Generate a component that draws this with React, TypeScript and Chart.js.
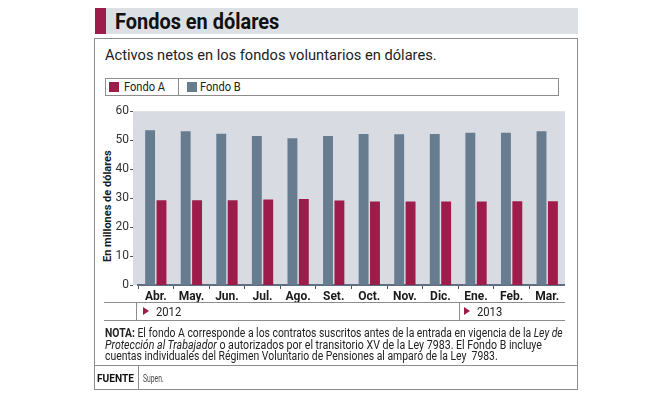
import React, { useEffect, useLayoutEffect, useRef } from "react";
import { Chart, registerables } from "chart.js";

Chart.register(...registerables);

const months = ["Abr.", "May.", "Jun.", "Jul.", "Ago.", "Set.", "Oct.", "Nov.", "Dic.", "Ene.", "Feb.", "Mar."];
const fondoA = [29.3, 29.3, 29.3, 29.5, 29.7, 29.2, 28.8, 28.8, 28.8, 28.8, 28.9, 28.9];
const fondoB = [53.4, 53.1, 52.2, 51.4, 50.7, 51.4, 52.1, 52.0, 52.1, 52.6, 52.6, 53.1];
const yTicks = [0, 10, 20, 30, 40, 50, 60];
const years = ["2012", "2013"];

const RED = "#9d1c4a";
const SLATE = "#687c8f";
const PLOT_BG = "#d8dce2";
const FONT = "Roboto, 'Noto Sans', sans-serif";

function Fit({ w, style, children }: { w: number; style?: React.CSSProperties; children: React.ReactNode }) {
  const ref = useRef<HTMLSpanElement>(null);
  useLayoutEffect(() => {
    const el = ref.current;
    if (!el) return;
    el.style.transform = "none";
    const nat = el.offsetWidth;
    if (nat > 0) el.style.transform = `scaleX(${w / nat})`;
  }, [w]);
  return (
    <span
      ref={ref}
      style={{ display: "inline-block", whiteSpace: "pre", transformOrigin: "0 50%", ...style }}
    >
      {children}
    </span>
  );
}

const abs = (l: number, t: number, extra?: React.CSSProperties): React.CSSProperties => ({
  position: "absolute",
  left: l,
  top: t,
  ...extra,
});

export default function App() {
  const canvasRef = useRef<HTMLCanvasElement>(null);

  useEffect(() => {
    const canvas = canvasRef.current;
    if (!canvas) return;
    const bgPlugin = {
      id: "plotBg",
      beforeDraw(chart: any) {
        const { ctx, chartArea } = chart;
        ctx.save();
        ctx.fillStyle = PLOT_BG;
        ctx.fillRect(chartArea.left - 5, chartArea.top, chartArea.right - chartArea.left + 5, chartArea.bottom - chartArea.top);
        ctx.restore();
      },
      afterDraw(chart: any) {
        const { ctx, chartArea } = chart;
        const y = chart.scales.y;
        ctx.save();
        ctx.strokeStyle = "#555";
        ctx.lineWidth = 1;
        yTicks.forEach((v) => {
          const py = Math.round(y.getPixelForValue(v)) + 0.5;
          ctx.beginPath();
          ctx.moveTo(chartArea.left - 8, py);
          ctx.lineTo(chartArea.left - 5, py);
          ctx.stroke();
        });
        ctx.restore();
      },
    };
    const chart = new Chart(canvas, {
      type: "bar",
      data: {
        labels: months,
        datasets: [
          { label: "Fondo B", data: fondoB, backgroundColor: SLATE, categoryPercentage: 0.64, barPercentage: 0.87 },
          { label: "Fondo A", data: fondoA, backgroundColor: RED, categoryPercentage: 0.64, barPercentage: 0.87 },
        ],
      },
      options: {
        animation: false,
        responsive: false,
        maintainAspectRatio: false,
        events: [],
        layout: { padding: 0 },
        plugins: { legend: { display: false }, tooltip: { enabled: false }, title: { display: false } },
        scales: {
          x: {
            grid: { drawOnChartArea: false, drawTicks: true, tickLength: 4, color: "#4a5560", offset: true },
            border: { display: true, color: "#5f6f7f", width: 2 },
            ticks: { font: { family: FONT, size: 12, weight: "bold" }, color: "#1a1a1a", padding: 1, maxRotation: 0 },
            afterFit: (s: any) => {
              s.height = 21;
            },
          },
          y: {
            min: 0,
            max: 60,
            grid: { display: false, drawTicks: false },
            border: { display: false },
            ticks: {
              stepSize: 10,
              font: { family: FONT, size: 12 },
              color: "#333",
              padding: 9,
            },
            afterFit: (s: any) => {
              s.width = 42;
            },
          },
        },
      },
      plugins: [bgPlugin],
    } as any);
    return () => chart.destroy();
  }, []);

  const line = (l: number, t: number, w: number, h: number, c = "#8c8c8c") => (
    <div style={abs(l, t, { width: w, height: h, background: c })} />
  );

  return (
    <div
      style={{
        position: "absolute",
        left: 0,
        top: 0,
        width: 653,
        height: 398,
        background: "#fff",
        fontFamily: FONT,
        color: "#1f1f1f",
        overflow: "hidden",
      }}
    >
      {/* Title band */}
      <div style={abs(95, 8, { width: 483, height: 26, background: "#dcdfe4" })} />
      <div style={abs(95, 8, { width: 11, height: 26, background: RED })} />
      <div style={abs(115, 8, { height: 27, lineHeight: "27px", fontSize: 22, fontWeight: 700, color: "#111" })}>
        <Fit w={164}>Fondos en dólares</Fit>
      </div>

      {/* Box */}
      <div style={abs(94, 38, { width: 482, height: 350, border: "1px solid #8c8c8c" })} />

      {/* Subtitle */}
      <div style={abs(105, 46, { height: 18, lineHeight: "18px", fontSize: 15, color: "#222" })}>
        <Fit w={332}>Activos netos en los fondos voluntarios en dólares.</Fit>
      </div>

      {/* Legend */}
      <div style={abs(105, 78, { width: 452, height: 16, border: "1px solid #8c8c8c" })} />
      <div style={abs(109, 82, { width: 10, height: 10, background: RED })} />
      <div style={abs(124, 78, { height: 18, lineHeight: "18px", fontSize: 13, color: "#222" })}>
        <Fit w={41}>Fondo A</Fit>
      </div>
      {line(178, 78, 1, 18)}
      <div style={abs(187, 82, { width: 10, height: 10, background: SLATE })} />
      <div style={abs(200, 78, { height: 18, lineHeight: "18px", fontSize: 13, color: "#222" })}>
        <Fit w={41}>Fondo B</Fit>
      </div>

      {/* Y axis title */}
      <div
        style={abs(107 - 60, 206 - 7, {
          width: 120,
          height: 14,
          lineHeight: "14px",
          transform: "rotate(-90deg)",
          transformOrigin: "50% 50%",
          fontSize: 11.5,
          fontWeight: 700,
          color: "#1a1a1a",
        })}
      >
        <div style={{ position: "absolute", left: 4, top: 0, height: 14 }}>
          <Fit w={112}>En millones de dólares</Fit>
        </div>
      </div>

      {/* Chart */}
      <canvas ref={canvasRef} width={469} height={211} style={abs(96, 95, { width: 469, height: 211 })} />

      {/* Year row */}
      {line(104, 302, 461, 1)}
      {line(104, 320, 461, 1)}
      {line(136, 302, 1, 18)}
      {line(459, 302, 1, 18)}
      <div
        style={abs(143, 307, {
          width: 0,
          height: 0,
          borderLeft: `6px solid ${RED}`,
          borderTop: "4px solid transparent",
          borderBottom: "4px solid transparent",
        })}
      />
      <div style={abs(156, 303, { height: 17, lineHeight: "17px", fontSize: 13, color: "#222" })}>
        <Fit w={25}>{years[0]}</Fit>
      </div>
      <div
        style={abs(464, 307, {
          width: 0,
          height: 0,
          borderLeft: `6px solid ${RED}`,
          borderTop: "4px solid transparent",
          borderBottom: "4px solid transparent",
        })}
      />
      <div style={abs(477, 303, { height: 17, lineHeight: "17px", fontSize: 13, color: "#222" })}>
        <Fit w={25}>{years[1]}</Fit>
      </div>

      {/* Note */}
      <div style={abs(105, 327, { height: 12, lineHeight: "12px", fontSize: 12, color: "#222" })}>
        <Fit w={458}>
          <b>NOTA:</b> El fondo A corresponde a los contratos suscritos antes de la entrada en vigencia de la <i>Ley de</i>
        </Fit>
      </div>
      <div style={abs(105, 338.5, { height: 12, lineHeight: "12px", fontSize: 12, color: "#222" })}>
        <Fit w={437}>
          <i>Protección al Trabajador</i> o autorizados por el transitorio XV de la Ley 7983. El Fondo B incluye
        </Fit>
      </div>
      <div style={abs(105, 350, { height: 12, lineHeight: "12px", fontSize: 12, color: "#222" })}>
        <Fit w={393}>cuentas individuales del Régimen Voluntario de Pensiones al amparo de la Ley  7983.</Fit>
      </div>

      {/* Footer */}
      {line(94, 365, 484, 1)}
      {line(138, 365, 1, 24)}
      <div style={abs(97, 371, { height: 16, lineHeight: "16px", fontSize: 11, fontWeight: 700, color: "#111" })}>
        <Fit w={37}>FUENTE</Fit>
      </div>
      <div style={abs(143, 371, { height: 16, lineHeight: "16px", fontSize: 11, color: "#444" })}>
        <Fit w={21}>Supen.</Fit>
      </div>
    </div>
  );
}
